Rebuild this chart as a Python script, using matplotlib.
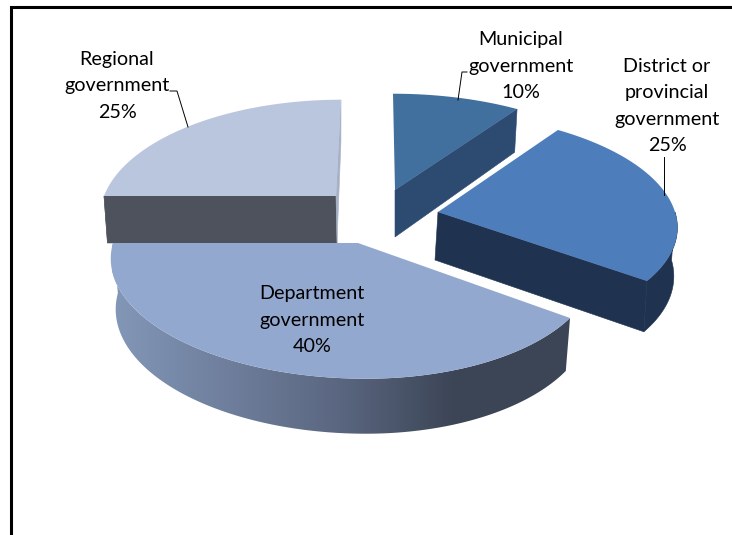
import matplotlib
matplotlib.use("Agg")
import matplotlib.pyplot as plt
from matplotlib.colors import LinearSegmentedColormap
from matplotlib.patches import Polygon
import numpy as np

categories = ["Municipal\ngovernment", "District or\nprovincial\ngovernment",
              "Department\ngovernment", "Regional\ngovernment"]
shares = [10, 25, 40, 25]

plt.rcParams['font.family'] = ['Lato', 'DejaVu Sans']

# per-slice geometry, same order as categories
apex = [(395, 190), (438, 212), (358, 243), (336, 196)]
radius_left = [244, 237, 245, 232]
radius_right = [244, 237, 233, 232]
radius_y = [116, 110.6, 116, 116]
perspective = [0.17, 0.103, 0.17, 0.17]
shear = [2, 9.6, 8, -5]
depth = [47, 48, 50, 47]
shrink = [0.02, 0.015, 0.02, 0.015]
apex_lean = [0, -3, 0, 1]
top_colors = ["#41709f", "#4d7ebb", "#93a8cf", "#b9c6de"]
side_colors = ["#2d4a70", "#1f3350", "#5a6680", "#4d525c"]

# cut faces that can be seen: (which edge, colour)
cut_faces = [[("end", "#2d4a70")],
             [("end", "#1f3350")],
             [],
             [("start", "#4d525c"), ("end", "#a7b1c6")]]

# label centre x, first line centre y
label_pos = [(521, 40), (667, 66), (312, 294), (117, 59)]
leaders = [[(467, 72), (462, 72), (458, 100)],
           [(664, 157), (664, 195)],
           None,
           [(170, 91), (177, 91), (188, 127)]]

wall_cmap = LinearSegmentedColormap.from_list(
    "wall", [(0, "#8397b8"), (0.5, "#5a6680"), (0.74, "#3d4657"), (1, "#3c4555")])


def project(i, angle):
    # angle in degrees, clockwise from straight up
    u = np.sin(np.radians(angle))
    v = -np.cos(np.radians(angle))
    s = 1 + perspective[i] * v
    rx = np.where(u < 0, radius_left[i], radius_right[i])
    x = apex[i][0] + rx * u * s + shear[i] * v
    y = apex[i][1] + radius_y[i] * v * s
    return np.column_stack([np.atleast_1d(x), np.atleast_1d(y)]), np.atleast_1d(v)


def lower(i, pts, v):
    # same points on the underside of the slice
    out = pts.copy()
    out[:, 0] -= (pts[:, 0] - apex[i][0]) * shrink[i]
    out[:, 1] += depth[i] * (1 + 0.1 * v)
    return out


def draw_slice(ax, i, a0, a1):
    angles = np.linspace(a0, a1, 300)
    arc, v = project(i, angles)
    under = lower(i, arc, v)
    ap = np.array([apex[i]], dtype=float)
    ap_low = lower(i, ap, np.zeros(1))
    ap_low[:, 0] += apex_lean[i]

    for edge, color in cut_faces[i]:
        k = 0 if edge == "start" else -1
        face = np.vstack([arc[k], ap, ap_low, under[k]])
        ax.add_patch(Polygon(face, facecolor=color, edgecolor=color, lw=0.4))

    # outer wall only on the near half of the rim
    near = v >= 0
    if near.any():
        wall = np.vstack([arc[near], under[near][::-1]])
        if i == 2:
            # department wall is shaded left to right
            clip = Polygon(wall, transform=ax.transData, facecolor="none", edgecolor="none")
            ax.add_patch(clip)
            ramp = np.linspace(0, 1, 256).reshape(1, -1)
            img = ax.imshow(ramp, cmap=wall_cmap, extent=(112, 571, 440, 240),
                            aspect="auto", interpolation="bilinear")
            img.set_clip_path(clip)
        else:
            ax.add_patch(Polygon(wall, facecolor=side_colors[i], edgecolor=side_colors[i], lw=0.4))

    ax.add_patch(Polygon(np.vstack([ap, arc]), facecolor=top_colors[i], edgecolor="none"))


fig = plt.figure(figsize=(7.32, 5.35), dpi=100)
ax = fig.add_axes([0, 0, 1, 1])

# chart frame, open on the right and at the bottom
ax.plot([11, 11, 732], [535, 6.5, 6.5], color="black", lw=2.2, solid_joinstyle="miter")

edges = np.concatenate([[0], np.cumsum(shares)]) / sum(shares) * 360
for i in [3, 0, 1, 2]:
    draw_slice(ax, i, edges[i], edges[i + 1])

for i, name in enumerate(categories):
    x, y = label_pos[i]
    for n, line in enumerate(name.split("\n") + [f"{shares[i]}%"]):
        ax.text(x, y + n * 26.5, line, ha="center", va="center", fontsize=14.2, color="black")
    if leaders[i] is not None:
        xs, ys = zip(*leaders[i])
        ax.plot(xs, ys, color="black", lw=0.7)

ax.set_xlim(0, 732)
ax.set_ylim(535, 0)
ax.axis("off")

fig.savefig("out.png", dpi=100)
